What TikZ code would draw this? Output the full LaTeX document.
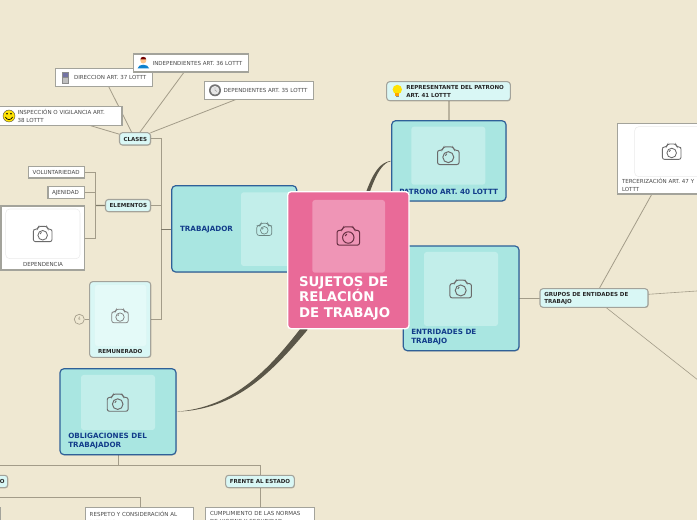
\documentclass[tikz,border=0pt]{standalone}
\usepackage{fontspec}
\setmainfont{DejaVu Sans}
\usetikzlibrary{shadows,calc,backgrounds}
\definecolor{bgc}{HTML}{EFE8D2}
\definecolor{bigc}{HTML}{A9E6E1}
\definecolor{bigin}{HTML}{C2EEEA}
\definecolor{bigb}{HTML}{2F6098}
\definecolor{smallc}{HTML}{D9F7F5}
\definecolor{smallin}{HTML}{E4FAF8}
\definecolor{grayb}{HTML}{A3A39B}
\definecolor{pinkc}{HTML}{E96A98}
\definecolor{pinkin}{HTML}{EF95B6}
\definecolor{linec}{HTML}{A39C89}
\definecolor{linedk}{HTML}{7F7A69}
\definecolor{mainl}{HTML}{5A5648}
\definecolor{bluet}{HTML}{123C8A}
\definecolor{darkt}{HTML}{262626}
\definecolor{grayt}{HTML}{484848}
\tikzset{
  x=0.75pt,y=-0.75pt,
  softshadow/.style={drop shadow={shadow xshift=0.5pt,shadow yshift=-0.5pt,opacity=0.18,fill=black}},
  boxbase/.style={rectangle,inner sep=0,outer sep=0},
  bigbox/.style={boxbase,draw=bigb,line width=0.9pt,fill=bigc,rounded corners=3pt,softshadow},
  smallbox/.style={boxbase,draw=grayb,line width=0.8pt,fill=smallc,rounded corners=2.2pt,softshadow},
  whitebox/.style={boxbase,draw=grayb,line width=0.8pt,fill=white,softshadow},
  pinkbox/.style={boxbase,draw=white,line width=1pt,fill=pinkc,rounded corners=2.5pt},
  innerbig/.style={boxbase,fill=bigin,rounded corners=2pt},
  innerpink/.style={boxbase,fill=pinkin,rounded corners=2pt},
  innersmall/.style={boxbase,fill=smallin,draw=bigin!60!white,line width=0.3pt,rounded corners=2pt},
  innerwhite/.style={boxbase,fill=white,draw=black!8,line width=0.4pt,rounded corners=3pt},
  lbl/.style={inner sep=0,outer sep=0,anchor=west,align=left},
  plaint/.style={lbl,text=grayt,font=\fontsize{4.15}{6.2}\selectfont},
  boldt/.style={lbl,text=darkt,font=\bfseries\fontsize{4.15}{5.4}\selectfont},
  bluelbl/.style={lbl,text=bluet,font=\bfseries\fontsize{5.4}{6.8}\selectfont},
  conn/.style={draw=linec,line width=0.6pt},
  connthin/.style={draw=linec,line width=0.45pt},
  conndk/.style={draw=linedk,line width=0.9pt},
}
% \bx{style}{name}{x1}{y1}{x2}{y2}
\newcommand{\bx}[6]{%
  \pgfmathsetmacro{\bxw}{(#5-#3)*0.75}%
  \pgfmathsetmacro{\bxh}{(#6-#4)*0.75}%
  \node[#1,minimum width=\bxw pt,minimum height=\bxh pt] (#2) at ({(#3+#5)/2},{(#4+#6)/2}) {};%
}
% \camicon{x}{y}{scale}{colour}
\newcommand{\camicon}[4]{%
  \begin{scope}[shift={(#1,#2)},scale=#3,line width=#3*0.75pt,draw=#4]
    \draw[rounded corners=1.6pt] (-11,-5.5) -- (-6,-5.5) -- (-5,-9) -- (5,-9) -- (6,-5.5) -- (11,-5.5) -- (11,9) -- (-11,9) -- cycle;
    \draw (0,1.5) circle (5.6);
    \draw (-3,0) -- (-1.5,-2);
  \end{scope}%
}
\begin{document}
\begin{tikzpicture}
\useasboundingbox (0,0) rectangle (697,520);
\clip (0,0) rectangle (697,520);
% ---------- boxes
\bx{smallbox}{clases}{119.5}{132.7}{150.5}{145}
\bx{smallbox}{elementos}{105.5}{199.5}{150.5}{211.7}
\bx{whitebox}{volunt}{28.5}{166.5}{84.7}{178}
\bx{whitebox}{ajen}{48}{186.5}{84.7}{198.5}
\bx{whitebox}{depend}{1}{206}{84.7}{270}
\bx{whitebox}{insp}{-6}{106.7}{122}{125.3}
\bx{whitebox}{direc}{55.3}{68.3}{152.7}{86.3}
\bx{whitebox}{indep}{133.3}{54}{248.3}{72}
\bx{whitebox}{depart}{204.7}{81.7}{313.3}{99.3}
\bx{smallbox}{remun}{89.7}{281.7}{150.7}{357.3}
\bx{bigbox}{trab}{171.7}{185.7}{296.7}{272}
\bx{bigbox}{oblig}{60}{368.7}{176}{454.7}
\bx{bigbox}{patrono}{391.7}{120.7}{506}{201}
\bx{bigbox}{entid}{403.3}{246}{519}{350.7}
\bx{smallbox}{repre}{386.7}{81.7}{510.3}{100.7}
\bx{smallbox}{grupos}{540}{288.7}{648}{307.3}
\bx{whitebox}{terc}{617.3}{123.3}{726}{194}
\bx{smallbox}{fest}{225.7}{475.3}{294.3}{487.7}
\bx{smallbox}{fpat}{-70}{475.3}{7.7}{487.7}
\bx{whitebox}{cumpl}{205.7}{507.7}{314.3}{560}
\bx{whitebox}{respeto}{85.3}{507.7}{193.7}{560}
\bx{whitebox}{leftb}{-60}{507.7}{0.7}{560}
\node[draw=linec,line width=0.5pt,circle,inner sep=0,minimum size=7.5pt,text=linec,font=\fontsize{3.5}{4}\selectfont] (fold) at (79.3,319.3) {4};
% ---------- inner panels
\bx{innerwhite}{dependIn}{5.7}{209}{80}{258.7}
\bx{innerbig}{trabIn}{241}{192.3}{293}{266}
\bx{innersmall}{remunIn}{94.7}{284.7}{146.7}{346.3}
\bx{innerbig}{obligIn}{81}{375}{155}{430}
\bx{innerbig}{patronoIn}{411.3}{126.7}{485.3}{184.7}
\bx{innerbig}{entidIn}{424}{252}{498}{326}
\bx{innerwhite}{tercIn}{634.7}{126.7}{720}{176.7}
\camicon{42.7}{234}{0.85}{black!58}
\camicon{264.3}{229.3}{0.68}{black!45!bigin}
\camicon{120}{316}{0.75}{black!50}
\camicon{117.7}{402.7}{0.95}{black!58}
\camicon{448.3}{155.7}{0.98}{black!58}
\camicon{460.7}{289}{0.98}{black!58}
\camicon{671.7}{151.7}{0.85}{black!58}
% ---------- texts
\node[boldt] (tClases) at (123.5,139) {CLASES};
\node[boldt] (tElem) at (109.7,205.7) {ELEMENTOS};
\node[plaint] (tVol) at (32.7,172.5) {VOLUNTARIEDAD};
\node[plaint] (tAje) at (52,192.7) {AJENIDAD};
\node[plaint,anchor=center] (tDep) at (43,264) {DEPENDENCIA};
\node[plaint] (tIns) at (17.7,116) {INSPECCIÓN O VIGILANCIA ART.\\38 LOTTT};
\node[plaint] (tDir) at (74,77.7) {DIRECCION ART. 37 LOTTT};
\node[plaint] (tInd) at (152.7,63) {INDEPENDIENTES ART. 36 LOTTT};
\node[plaint] (tDpa) at (223.7,90.8) {DEPENDIENTES ART. 35 LOTTT};
\node[bluelbl] (tTra) at (180,229.5) {TRABAJADOR};
\node[boldt,anchor=center] (tRem) at (120.3,351.8) {REMUNERADO};
\node[bluelbl] (tObl) at (68.3,440.8) {OBLIGACIONES DEL\\TRABAJADOR};
\node[boldt,anchor=center] (tFes) at (260,481.7) {FRENTE AL ESTADO};
\node[boldt,anchor=east] (tFpa) at (4.5,481.7) {FRENTE AL PATRONO};
\node[plaint,anchor=north west] (tCum) at (210,511) {CUMPLIMIENTO DE LAS NORMAS\\DE HIGIENE Y SEGURIDAD};
\node[plaint,anchor=north west] (tRes) at (89.7,511) {RESPETO Y CONSIDERACIÓN AL\\PATRONO};
\node[bluelbl] (tPat) at (399.3,191.7) {PATRONO ART. 40 LOTTT};
\node[bluelbl] (tEnt) at (411.3,336.8) {ENTRIDADES DE\\TRABAJO};
\node[boldt] (tRep) at (406.3,91.5) {REPRESENTANTE DEL PATRONO\\ART. 41 LOTTT};
\node[boldt] (tGru) at (544.3,298.5) {GRUPOS DE ENTIDADES DE\\TRABAJO};
\node[plaint] (tTer) at (622,185) {TERCERIZACIÓN ART. 47 Y\\LOTTT};
% ---------- central topic on top
\bx{pinkbox}{sujetos}{287.7}{191.7}{409}{328.7}
\bx{innerpink}{sujetosIn}{312.3}{200}{385}{272.7}
\camicon{348.3}{236}{1.02}{black!55!pinkc}
\node[lbl,text=white,font=\bfseries\fontsize{10}{11.7}\selectfont] (tSuj) at (299,298) {SUJETOS DE\\RELACIÓN\\DE TRABAJO};
% ---------- small icons
\fill[yellow!85!orange] (9,116) circle (6);
\draw[black!70,line width=0.3pt] (9,116) circle (6);
\fill[black] (7,113.8) circle (0.9) (11,113.8) circle (0.9);
\draw[black,line width=0.5pt] (5.4,117) .. controls (7,120.5) and (11,120.5) .. (12.6,117);
\fill[black!45] (62.2,71.7) rectangle (69.2,83.7);
\fill[blue!35!black!55] (63.4,73) rectangle (68,77.5);
\fill[black!25] (63.4,78.5) rectangle (68,82.8);
\fill[cyan!65!blue] (137.5,68.5) .. controls (138,63.5) and (148.5,63.5) .. (149.2,68.5) -- cycle;
\fill[orange!45!white] (143.3,60.5) circle (3);
\fill[red!45!black] (140.3,59.5) .. controls (140.5,56) and (146.2,56) .. (146.3,59.5) -- cycle;
\fill[black!55] (215,90.3) circle (6);
\fill[white!90!black] (215,90.3) circle (4.4);
\draw[black!45,line width=0.3pt] (215,90.3) -- (215,87) (215,90.3) -- (217,91.5);
\fill[yellow!85!orange] (397.3,89.5) circle (4.7);
\fill[orange!70!yellow] (395.2,93.5) rectangle (399.4,96);
\fill[black!45] (396,96) rectangle (398.6,97.4);
% ---------- free ends and buses
\coordinate (busT) at (161.3,229.3);
\coordinate (busE) at (95.7,205.6);
\coordinate (busO) at (118.3,465.3);
\coordinate (busL) at (-20,465.3);
\coordinate (busP) at (-20,497.7);
\coordinate (busR) at (140,497.7);
\coordinate (depY) at (84.7,238.3);
\coordinate (repX) at (449,110);
\coordinate (offA) at (760,286.7);
\coordinate (offB) at (760,429);
% ---------- connectors, behind everything
\begin{pgfonlayer}{background}
\clip (0,0) rectangle (697,520);
\fill[bgc] (0,0) rectangle (697,520);
\draw[conn] (clases) -- (insp);
\draw[conn] (clases) -- (direc);
\draw[conn] (clases) -- (indep);
\draw[conn] (clases) -- (depart);
\draw[conn] (clases.east) -| (busT);
\draw[conn] (elementos.east) -| (busT);
\draw[conn] (remun.east|-fold) -| (busT);
\draw[conndk] (busT) -- (trab.west|-busT);
\draw[conn] (fold) -- (remun.west|-fold);
\draw[conndk] (elementos.west) -- (busE);
\draw[conn] (volunt.east) -| (busE);
\draw[conn] (ajen.east) -| (busE);
\draw[conn] (depY) -| (busE);
\draw[draw=linec!70!bgc,line width=1.2pt] (repre.south-|repX) -- (patrono.north-|repX);
\draw[conn] (entid.east|-grupos) -- (grupos.west);
\draw[conn] (grupos) -- (terc);
\draw[connthin] (grupos) -- (offA);
\draw[connthin] (grupos) -- (offB);
\draw[conn] (oblig.south-|busO) -- (busO);
\draw[conn] (busL) -- (busO) -| (fest.north);
\draw[conn] (fest.south) -- (cumpl.north-|fest.south);
\draw[conn] (busP) -- (busR) -- (respeto.north-|busR);
% tapered main branches
\fill[mainl] (oblig.east) .. controls (235,407.5) and (270,368) .. ([shift={(15,-3)}]sujetos.south west)
  -- ([shift={(20,1)}]sujetos.south west) .. controls (272,372) and (236,410) .. (oblig.east) -- cycle;
\fill[mainl] (patrono.west) .. controls (376,162) and (369,182) .. ([shift={(10,23)}]sujetos.north)
  -- ([shift={(14,23)}]sujetos.north) .. controls (372,184) and (379,163) .. (patrono.west) -- cycle;
\end{pgfonlayer}
\end{tikzpicture}
\end{document}
